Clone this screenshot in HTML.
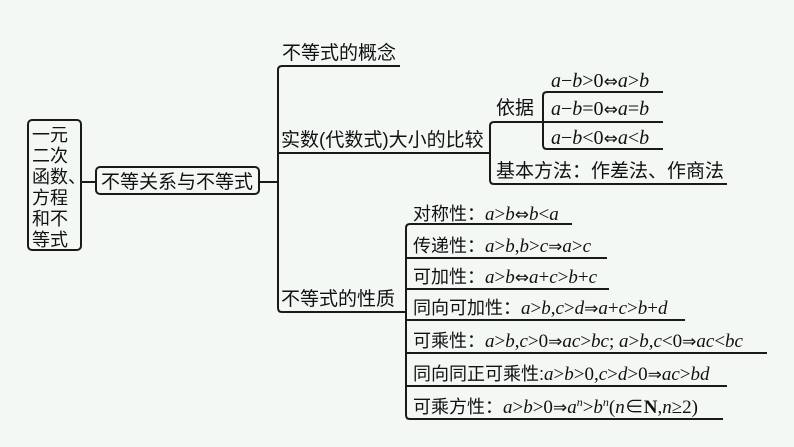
<!DOCTYPE html>
<html><head><meta charset="utf-8"><style>
html,body{margin:0;padding:0;background:#f3f8f5;}
svg{display:block}
text{font-family:"Liberation Serif","Noto Sans CJK SC",serif;fill:#111;}
.c{font-family:"Liberation Sans","Noto Sans CJK SC",sans-serif;font-size:18px;}
.i{font-style:italic;font-family:"Liberation Serif",serif;}
.a{font-family:"DejaVu Sans",sans-serif;font-size:17px;}
</style></head><body>
<svg width="794" height="447" viewBox="0 0 794 447" xmlns="http://www.w3.org/2000/svg">
<g fill="none" stroke="#1a1a1a" stroke-width="2">
<rect x="28" y="120" width="53" height="130" rx="4"/>
<line x1="81" y1="182" x2="96" y2="182"/>
<rect x="96" y="167" width="163" height="27" rx="4"/>
<line x1="259" y1="182" x2="278" y2="182"/>
<path d="M400 66 H282 Q278 66 278 70 V308 Q278 312 282 312 H406"/>
<line x1="278" y1="153" x2="490" y2="153"/>
<path d="M543 122 H494 Q490 122 490 126 V180 Q490 184 494 184 H727"/>
<path d="M663 92 H547 Q543 92 543 96 V145 Q543 149 547 149 H663"/>
<line x1="543" y1="122" x2="663" y2="122"/>
<path d="M572 224 H410 Q406 224 406 228 V415 Q406 419 410 419 H723"/>
<line x1="406" y1="258" x2="607" y2="258"/>
<line x1="406" y1="289" x2="609" y2="289"/>
<line x1="406" y1="320" x2="685" y2="320"/>
<line x1="406" y1="353" x2="767" y2="353"/>
<line x1="406" y1="386" x2="727" y2="386"/>
</g>
<g>
<text class="c" x="32" y="141">一元</text>
<text class="c" x="32" y="162">二次</text>
<text class="c" x="32" y="183">函数、</text>
<text class="c" x="32" y="204">方程</text>
<text class="c" x="32" y="225">和不</text>
<text class="c" x="32" y="246">等式</text>
<text class="c" x="101" y="188" style="font-size:19px">不等关系与不等式</text>
<text class="c" x="282" y="59" style="font-size:19px">不等式的概念</text>
<text class="c" x="281" y="146" style="font-size:19px">实数(代数式)大小的比较</text>
<text class="c" x="496" y="114" style="font-size:19px">依据</text>
<text class="c" x="496" y="177" style="font-size:19px">基本方法：作差法、作商法</text>
<text class="c" x="281" y="305" style="font-size:19px">不等式的性质</text>
</g>
<g font-size="20">
<text x="551" y="87"><tspan class="i">a</tspan>−<tspan class="i">b</tspan>&gt;0<tspan class="a">⇔</tspan><tspan class="i">a</tspan>&gt;<tspan class="i">b</tspan></text>
<text x="551" y="115"><tspan class="i">a</tspan>−<tspan class="i">b</tspan>=0<tspan class="a">⇔</tspan><tspan class="i">a</tspan>=<tspan class="i">b</tspan></text>
<text x="551" y="144"><tspan class="i">a</tspan>−<tspan class="i">b</tspan>&lt;0<tspan class="a">⇔</tspan><tspan class="i">a</tspan>&lt;<tspan class="i">b</tspan></text>
</g>
<g font-size="19">
<text x="413" y="220"><tspan class="c">对称性：</tspan><tspan class="i">a</tspan>&gt;<tspan class="i">b</tspan><tspan class="a">⇔</tspan><tspan class="i">b</tspan>&lt;<tspan class="i">a</tspan></text>
<text x="413" y="252"><tspan class="c">传递性：</tspan><tspan class="i">a</tspan>&gt;<tspan class="i">b</tspan>,<tspan class="i">b</tspan>&gt;<tspan class="i">c</tspan><tspan class="a">⇒</tspan><tspan class="i">a</tspan>&gt;<tspan class="i">c</tspan></text>
<text x="413" y="283"><tspan class="c">可加性：</tspan><tspan class="i">a</tspan>&gt;<tspan class="i">b</tspan><tspan class="a">⇔</tspan><tspan class="i">a</tspan>+<tspan class="i">c</tspan>&gt;<tspan class="i">b</tspan>+<tspan class="i">c</tspan></text>
<text x="413" y="314"><tspan class="c">同向可加性：</tspan><tspan class="i">a</tspan>&gt;<tspan class="i">b</tspan>,<tspan class="i">c</tspan>&gt;<tspan class="i">d</tspan><tspan class="a">⇒</tspan><tspan class="i">a</tspan>+<tspan class="i">c</tspan>&gt;<tspan class="i">b</tspan>+<tspan class="i">d</tspan></text>
<text x="413" y="347"><tspan class="c">可乘性：</tspan><tspan class="i">a</tspan>&gt;<tspan class="i">b</tspan>,<tspan class="i">c</tspan>&gt;0<tspan class="a">⇒</tspan><tspan class="i">ac</tspan>&gt;<tspan class="i">bc</tspan>; <tspan class="i">a</tspan>&gt;<tspan class="i">b</tspan>,<tspan class="i">c</tspan>&lt;0<tspan class="a">⇒</tspan><tspan class="i">ac</tspan>&lt;<tspan class="i">bc</tspan></text>
<text x="413" y="380"><tspan class="c">同向同正可乘性:</tspan><tspan class="i">a</tspan>&gt;<tspan class="i">b</tspan>&gt;0,<tspan class="i">c</tspan>&gt;<tspan class="i">d</tspan>&gt;0<tspan class="a">⇒</tspan><tspan class="i">ac</tspan>&gt;<tspan class="i">bd</tspan></text>
<text x="413" y="413"><tspan class="c">可乘方性：</tspan><tspan class="i">a</tspan>&gt;<tspan class="i">b</tspan>&gt;0<tspan class="a">⇒</tspan><tspan class="i">a</tspan><tspan class="i" font-size="12" dy="-7">n</tspan><tspan dy="7">&gt;</tspan><tspan class="i">b</tspan><tspan class="i" font-size="12" dy="-7">n</tspan><tspan dy="7">(</tspan><tspan class="i">n</tspan>∈<tspan font-weight="bold">N</tspan>,<tspan class="i">n</tspan>≥2)</text>
</g>
</svg>
</body></html>
